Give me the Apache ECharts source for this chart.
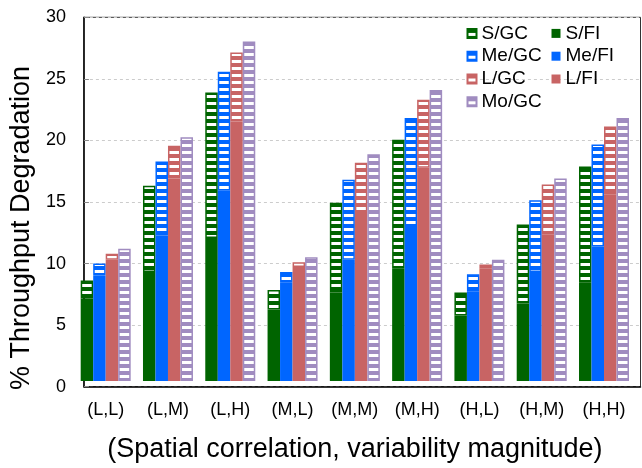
<!DOCTYPE html>
<html>
<head>
<meta charset="utf-8">
<script src="https://cdn.jsdelivr.net/npm/echarts@6/dist/echarts.min.js"></script>
<style>
html,body{margin:0;padding:0;background:#fff;}
#chart{width:642px;height:468px;}
</style>
</head>
<body>
<div id="chart"></div>
<script>
// ---- data ----
const categories = ['(L,L)','(L,M)','(L,H)','(M,L)','(M,M)','(M,H)','(H,L)','(H,M)','(H,H)'];
const sGC  = [8.3, 16.1, 23.8, 7.5, 14.7, 19.9, 7.3, 12.9, 17.7];
const sFI  = [6.8,  9.0, 11.8, 5.9,  7.3,  9.3, 5.4,  6.4,  8.1];
const meGC = [9.7, 18.1, 25.5, 9.0, 16.6, 21.7, 8.8, 14.9, 19.5];
const meFI = [8.7, 12.0, 15.7, 8.1, 10.0, 12.7, 7.4,  9.0, 11.1];
const lGC  = [10.5, 19.4, 27.1, 9.8, 18.0, 23.2, 9.6, 16.2, 21.0];
const lFI  = [10.0, 16.7, 21.4, 9.4, 13.7, 17.6, 9.3, 12.1, 15.4];
const moGC = [10.9, 20.1, 28.0, 10.2, 18.7, 24.0, 10.0, 16.7, 21.7];
const yTicks = [0, 5, 10, 15, 20, 25, 30];

const FONT = 'Liberation Sans, Arial, Helvetica, sans-serif';
const colS = '#006400', colMe = '#0066ff', colL = '#c86464', colMo = '#a08cc0';

function stripe(color) {
  const c = document.createElement('canvas');
  c.width = 4; c.height = 7;
  const ctx = c.getContext('2d');
  ctx.fillStyle = color; ctx.fillRect(0, 0, 4, 4);
  ctx.fillStyle = '#ffffff'; ctx.fillRect(0, 4, 4, 3);
  return {image: c, repeat: 'repeat'};
}
const diff = (a, b) => a.map((v, i) => +(v - b[i]).toFixed(3));

function solid(name, stack, data, color) {
  return {name, type: 'bar', xAxisIndex: 1, yAxisIndex: 1, stack, data,
    barWidth: 12.5, barGap: '0%', itemStyle: {color}};
}
function striped(name, stack, data, color) {
  return {name, type: 'bar', xAxisIndex: 1, yAxisIndex: 1, stack, data,
    barWidth: 12.5, barGap: '0%',
    itemStyle: {color: stripe(color), borderColor: color, borderWidth: 1.5}};
}

const chart = echarts.init(document.getElementById('chart'), null, {renderer: 'canvas'});
const legendText = {fontSize: 19, fontFamily: FONT, color: '#000', lineHeight: 22.8};
chart.setOption({
  animation: false,
  backgroundColor: '#ffffff',
  textStyle: {fontFamily: FONT},
  legend: [
    {data: ['S/GC', 'Me/GC', 'L/GC', 'Mo/GC'], orient: 'vertical', left: 461.5, top: 17,
     icon: 'rect', itemWidth: 9, itemHeight: 9, itemGap: 0, selectedMode: false, textStyle: legendText},
    {data: ['S/FI', 'Me/FI', 'L/FI'], orient: 'vertical', left: 546.5, top: 17,
     icon: 'rect', itemWidth: 9, itemHeight: 9, itemGap: 0, selectedMode: false, textStyle: legendText}
  ],
  grid: [
    {left: 80.5, right: 1.5, top: 17.3, bottom: 81.3, show: true, borderColor: '#333', borderWidth: 1, backgroundColor: 'transparent'},
    {left: 74.55, right: 6.85, top: 17.3, bottom: 81.3}
  ],
  xAxis: [
    {gridIndex: 0, type: 'value', min: 0, max: 1,
     axisLine: {show: true, onZero: false, lineStyle: {color: '#000', width: 1.5}},
     axisTick: {show: false}, axisLabel: {show: false}, splitLine: {show: false}},
    {gridIndex: 1, type: 'category', data: categories,
     axisLine: {show: false}, axisTick: {show: false},
     axisLabel: {fontSize: 18, margin: 20, color: '#000', fontFamily: FONT},
     name: '(Spatial correlation, variability magnitude)', nameLocation: 'middle', nameGap: 55,
     nameTextStyle: {fontSize: 27, color: '#000', fontFamily: FONT}}
  ],
  yAxis: [
    {gridIndex: 0, type: 'value', min: yTicks[0], max: yTicks[yTicks.length - 1], interval: yTicks[1] - yTicks[0],
     axisLine: {show: true, lineStyle: {color: '#000', width: 1.5}},
     axisTick: {show: true, inside: true, length: 5, lineStyle: {color: '#888'}},
     axisLabel: {fontSize: 18, margin: 18, color: '#000', fontFamily: FONT},
     splitLine: {show: true, lineStyle: {type: [3, 3], color: '#cccccc', width: 1}},
     name: '% Throughput Degradation', nameLocation: 'middle', nameGap: 45,
     nameTextStyle: {fontSize: 27, color: '#000', fontFamily: FONT, padding: [0, 52, 0, 0]}},
    {gridIndex: 1, type: 'value', min: yTicks[0], max: yTicks[yTicks.length - 1], show: false}
  ],
  series: [
    solid('S/FI', 'S', sFI, colS),
    striped('S/GC', 'S', diff(sGC, sFI), colS),
    solid('Me/FI', 'Me', meFI, colMe),
    striped('Me/GC', 'Me', diff(meGC, meFI), colMe),
    solid('L/FI', 'L', lFI, colL),
    striped('L/GC', 'L', diff(lGC, lFI), colL),
    striped('Mo/GC', 'Mo', moGC, colMo)
  ]
});
</script>
</body>
</html>
